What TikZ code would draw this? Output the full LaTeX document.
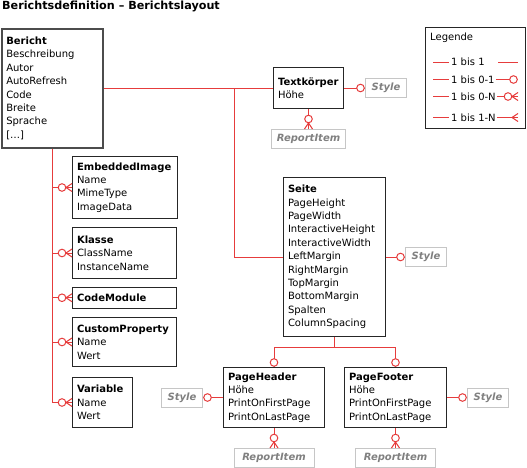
\documentclass[tikz,border=0pt]{standalone}
\usepackage{fontspec}
\setmainfont{DejaVu Sans}
\usetikzlibrary{positioning, calc}

\definecolor{relred}{HTML}{E63C3C}
\newcommand{\diafont}{\fontsize{10}{13.4}\selectfont}

\begin{document}
\begin{tikzpicture}[
    x=1pt, y=-1pt,
    font=\diafont,
    rel/.style={
        draw=relred,
        line width=1pt
    },
    entity/.style={
        rectangle,
        draw=black!85,
        line width=1pt,
        fill=white,
        anchor=north west,
        align=left,
        inner xsep=4.5pt,
        inner ysep=4pt
    },
    refbox/.style={ % Style or ReportItem reference
        rectangle,
        draw=gray!45,
        line width=1pt,
        text=gray,
        font=\diafont\bfseries\itshape,
        minimum height=19pt,
        inner xsep=5pt,
        inner ysep=2pt
    },
    pics/zeroone/.style={code={
        \draw[rel, fill=white] (-4.5,0) circle[radius=3.8pt];
    }},
    pics/zeromany/.style={code={
        \draw[rel, fill=white] (-10,0) circle[radius=3.8pt];
        \draw[rel] (-6,0) -- (0,4) (-6,0) -- (0,-4);
    }},
    pics/onemany/.style={code={
        \draw[rel] (-6,0) -- (0,4) (-6,0) -- (0,-4);
    }}
]
    \useasboundingbox (0,0) rectangle (527,467);

    \node[anchor=west, inner sep=0pt, font=\fontsize{11.2}{13}\selectfont\bfseries] (title) at (2,6.5) {Berichtsdefinition – Berichtslayout};

    % Bericht
    \node[entity, draw=black!70, line width=1.5pt, text width=92pt, minimum height=119pt] (bericht) at (1,28)
        {\textbf{Bericht}\\Beschreibung\\Autor\\AutoRefresh\\Code\\Breite\\Sprache\\{}[…]};

    % Left branch
    \node[entity, text width=96pt, minimum height=62pt] (embimg) at (72,156)
        {\textbf{EmbeddedImage}\\Name\\MimeType\\ImageData};
    \node[entity, text width=95pt, minimum height=51pt] (klasse) at (72,227)
        {\textbf{Klasse}\\ClassName\\InstanceName};
    \node[entity, text width=95pt, minimum height=20.5pt] (codemod) at (72,287)
        {\textbf{CodeModule}};
    \node[entity, text width=95pt, minimum height=49pt] (custprop) at (72,317)
        {\textbf{CustomProperty}\\Name\\Wert};
    \node[entity, text width=51pt, minimum height=50pt] (variable) at (72,377)
        {\textbf{Variable}\\Name\\Wert};

    \draw[rel] (bericht.south) |- (variable.west);
    \foreach \e in {embimg, klasse, codemod, custprop} {
        \draw[rel] (bericht.south |- \e.west) -- (\e.west);
    }
    \foreach \e in {embimg, klasse, codemod, custprop, variable} {
        \pic at (\e.west) {zeromany};
    }

    % Textkoerper
    \node[entity, text width=61pt, minimum height=41pt] (textk) at (273,67)
        {\textbf{Textkörper}\\Höhe};
    \node[refbox, right=21pt of textk, minimum width=41pt] (style1) {Style};
    \node[refbox, below=20pt of textk] (item1) {ReportItem};

    \coordinate (split) at (234,0);
    \draw[rel] (bericht.east |- textk.west) -- (textk.west);
    \draw[rel] (textk.east) -- (style1.west);
    \pic at (style1.west) {zeroone};
    \draw[rel] (textk.south) -- (item1.north);
    \pic[rotate=-90] at (item1.north) {zeromany};

    % Seite
    \node[entity, text width=93pt, minimum height=159pt] (seite) at (283,177)
        {\textbf{Seite}\\PageHeight\\PageWidth\\InteractiveHeight\\InteractiveWidth\\LeftMargin\\RightMargin\\TopMargin\\BottomMargin\\Spalten\\ColumnSpacing};
    \node[refbox, right=19pt of seite, minimum width=41pt] (style2) {Style};

    \draw[rel] (split |- textk.west) |- (seite.west);
    \draw[rel] (seite.east) -- (style2.west);
    \pic at (style2.west) {zeroone};

    % PageHeader, PageFooter
    \node[entity, text width=92pt, minimum height=60pt] (phead) at (223,367)
        {\textbf{PageHeader}\\Höhe\\PrintOnFirstPage\\PrintOnLastPage};
    \node[entity, text width=93pt, minimum height=60pt] (pfoot) at (344,367)
        {\textbf{PageFooter}\\Höhe\\PrintOnFirstPage\\PrintOnLastPage};
    \node[refbox, left=20pt of phead, minimum width=41pt] (style3) {Style};
    \node[refbox, right=20pt of pfoot, minimum width=41pt] (style4) {Style};
    \node[refbox, below=20pt of phead, minimum width=80pt] (item2) {ReportItem};
    \node[refbox, below=20pt of pfoot, minimum width=80pt] (item3) {ReportItem};

    \draw[rel] (seite.south) -- ++(0,10.7) -| (phead.north);
    \draw[rel] (seite.south) -- ++(0,10.7) -| (pfoot.north);
    \pic[rotate=-90] at (phead.north) {zeroone};
    \pic[rotate=-90] at (pfoot.north) {zeroone};

    \draw[rel] (phead.west) -- (style3.east);
    \pic[rotate=180] at (style3.east) {zeroone};
    \draw[rel] (pfoot.east) -- (style4.west);
    \pic at (style4.west) {zeroone};

    \draw[rel] (phead.south) -- (item2.north);
    \pic[rotate=-90] at (item2.north) {zeromany};
    \draw[rel] (pfoot.south) -- (item3.north);
    \pic[rotate=-90] at (item3.north) {zeromany};

    % Legende
    \node[rectangle, draw=black!85, line width=1pt, anchor=north west,
        minimum width=100pt, minimum height=101pt] (legend) at (425,27) {};
    \node[anchor=west, inner sep=0pt] (leghead) at (430,38) {Legende};
    \node[anchor=west, inner sep=0pt] (l1) at (451,62) {1 bis 1};
    \node[anchor=west, inner sep=0pt] (l2) at (451,79.5) {1 bis 0-1};
    \node[anchor=west, inner sep=0pt] (l3) at (451,96.5) {1 bis 0-N};
    \node[anchor=west, inner sep=0pt] (l4) at (451,117.5) {1 bis 1-N};

    \foreach \l in {l1, l2, l3, l4} {
        \draw[rel] ($(\l.west)+(-18,0)$) -- ($(\l.west)+(-2,0)$);
    }
    \coordinate (r1) at (518,62);
    \coordinate (r2) at (518,79.5);
    \coordinate (r3) at (518,96.5);
    \coordinate (r4) at (518,117.5);
    \draw[rel] ($(r1)+(-20,0)$) -- (r1);
    \draw[rel] ($(l2.east)+(1,0)$) -- (r2);
    \pic at (r2) {zeroone};
    \draw[rel] ($(l3.east)+(1,0)$) -- (r3);
    \pic at (r3) {zeromany};
    \draw[rel] ($(l4.east)+(1,0)$) -- (r4);
    \pic at (r4) {onemany};
\end{tikzpicture}
\end{document}
